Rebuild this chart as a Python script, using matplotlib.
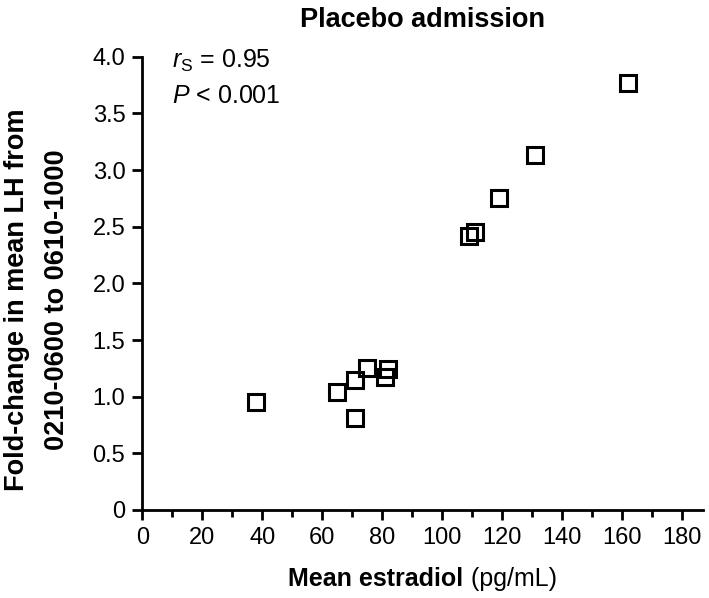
import matplotlib
matplotlib.use("Agg")
import matplotlib.pyplot as plt
from matplotlib.ticker import MultipleLocator

plt.rcParams["font.family"] = ["Liberation Sans", "DejaVu Sans"]
plt.rcParams["mathtext.fontset"] = "custom"
plt.rcParams["mathtext.rm"] = "Liberation Sans"
plt.rcParams["mathtext.it"] = "Liberation Sans:italic"

# data
estradiol = [38, 65, 71, 71, 75, 81, 82, 109, 111, 119, 131, 162]
fold_change = [0.95, 1.04, 0.81, 1.15, 1.25, 1.17, 1.24, 2.42, 2.45, 2.75, 3.13, 3.77]

yticks = [0, 0.5, 1.0, 1.5, 2.0, 2.5, 3.0, 3.5, 4.0]
ytick_labels = ["0", "0.5", "1.0", "1.5", "2.0", "2.5", "3.0", "3.5", "4.0"]
xticks = list(range(0, 181, 20))

W, H = 709, 598
fig = plt.figure(figsize=(W / 100, H / 100), dpi=100)
ax = fig.add_axes([142.3 / W, 88 / H, 560.7 / W, 453.3 / H])

ax.plot(estradiol, fold_change, linestyle="none", marker="s", markersize=11.5,
        markerfacecolor="none", markeredgecolor="black", markeredgewidth=2.2,
        clip_on=False)

ax.set_xlim(0, 187)
ax.set_ylim(0, 4.0)
ax.set_xticks(xticks)
ax.xaxis.set_minor_locator(MultipleLocator(10))
ax.set_yticks(yticks)
ax.set_yticklabels(ytick_labels)

for s in ["top", "right"]:
    ax.spines[s].set_visible(False)
for s in ["left", "bottom"]:
    ax.spines[s].set_linewidth(2)
ax.tick_params(axis="both", which="major", direction="out", length=7.2, width=2,
               labelsize=17, pad=5)
ax.tick_params(axis="x", which="minor", direction="out", length=5, width=2)

# stats annotation
fig.text(172 / W, 1 - 68 / H, "$r_\\mathrm{S}$ = 0.95", fontsize=18,
         va="baseline", ha="left")
fig.text(172 / W, 1 - 103 / H, "$P$ < 0.001", fontsize=18,
         va="baseline", ha="left")

fig.text(422.5 / W, 1 - 27 / H, "Placebo admission", fontsize=19.5,
         fontweight="bold", ha="center", va="baseline")

fig.text(17 / W, 1 - 300 / H, "Fold-change in mean LH from", fontsize=19.5,
         fontweight="bold", rotation=90, ha="center", va="center")
fig.text(57 / W, 1 - 300 / H, "0210-0600 to 0610-1000", fontsize=19.5,
         fontweight="bold", rotation=90, ha="center", va="center")

# x label: bold part + normal part, centred together under the axes
yb = 1 - 586 / H
t1 = fig.text(0.5, yb, "Mean estradiol", fontsize=18, fontweight="bold",
              ha="right", va="baseline")
t2 = fig.text(0.5, yb, " (pg/mL)", fontsize=18, ha="left", va="baseline")
fig.canvas.draw()
r = fig.canvas.get_renderer()
w1 = t1.get_window_extent(r).width
w2 = t2.get_window_extent(r).width
split = 422.5 - (w1 + w2) / 2 + w1
t1.set_x(split / W)
t2.set_x(split / W)

fig.savefig("out.png", dpi=100)
